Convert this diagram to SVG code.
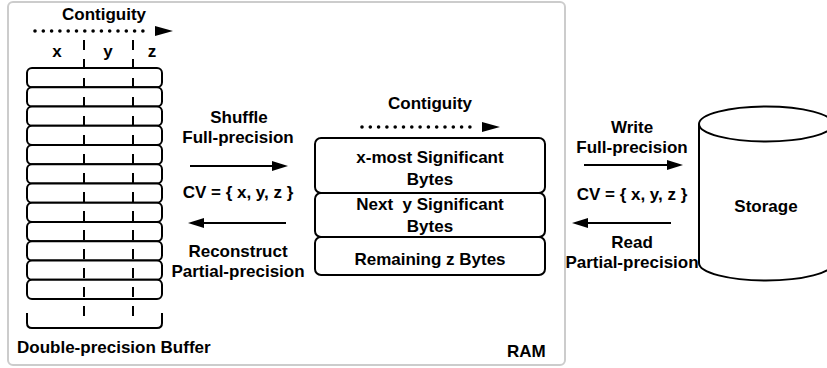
<svg xmlns="http://www.w3.org/2000/svg" width="827" height="368" viewBox="0 0 827 368">
  <style>
    text { font-family: "Liberation Sans", Arial, sans-serif; font-weight: bold; font-size: 17px; fill: #000; }
    .c { text-anchor: middle; }
    .ln { stroke: #000; stroke-width: 2; fill: none; }
    .box { stroke: #000; stroke-width: 2; fill: #fff; }
    .dots { stroke: #000; stroke-width: 3.6; stroke-linecap: round; stroke-dasharray: 0 8.3; fill: none; }
    .dash { stroke: #000; stroke-width: 2; stroke-dasharray: 10 9; fill: none; }
  </style>
  <defs>
    <marker id="head" markerUnits="userSpaceOnUse" markerWidth="17" markerHeight="11" refX="4" refY="5" orient="auto">
      <path d="M0,0 L16,5 L0,10 Z" fill="#000"/>
    </marker>
  </defs>

  <rect width="827" height="368" fill="#fff"/>

  <!-- RAM container -->
  <g id="ram">
    <rect x="8" y="2" width="557" height="363" rx="5" fill="#fff" stroke="#cccccc" stroke-width="2"/>
    <text x="507" y="356.5">RAM</text>
  </g>

  <!-- double-precision buffer: 12 stacked words split into x / y / z fields -->
  <g id="buffer">
    <text class="c" x="104" y="19.5">Contiguity</text>
    <text class="c" x="57" y="57">x</text>
    <text class="c" x="108" y="57">y</text>
    <text class="c" x="152" y="57">z</text>
    <g class="box">
      <rect x="27" y="68" width="135" height="19.25" rx="5"/>
      <rect x="27" y="87.25" width="135" height="19.25" rx="5"/>
      <rect x="27" y="106.5" width="135" height="19.25" rx="5"/>
      <rect x="27" y="125.75" width="135" height="19.25" rx="5"/>
      <rect x="27" y="145" width="135" height="19.25" rx="5"/>
      <rect x="27" y="164.25" width="135" height="19.25" rx="5"/>
      <rect x="27" y="183.5" width="135" height="19.25" rx="5"/>
      <rect x="27" y="202.75" width="135" height="19.25" rx="5"/>
      <rect x="27" y="222" width="135" height="19.25" rx="5"/>
      <rect x="27" y="241.25" width="135" height="19.25" rx="5"/>
      <rect x="27" y="260.5" width="135" height="19.25" rx="5"/>
      <rect x="27" y="279.75" width="135" height="19.25" rx="5"/>
    </g>
    <path class="ln" d="M27,313 V323 Q27,328 32,328 H157 Q162,328 162,323 V313"/>
    <line class="dash" x1="84" y1="40" x2="84" y2="320"/>
    <line class="dash" x1="133" y1="40" x2="133" y2="320"/>
    <text x="17" y="353">Double-precision Buffer</text>
  </g>

  <!-- shuffled byte layout -->
  <g id="layout">
    <text class="c" x="430" y="108.5">Contiguity</text>
    <rect class="box" x="315" y="138" width="230" height="55" rx="6"/>
    <rect class="box" x="315" y="193" width="230" height="44" rx="6"/>
    <rect class="box" x="315" y="237" width="230" height="38" rx="6"/>
    <text class="c" x="430" y="163">x-most Significant</text>
    <text class="c" x="430" y="185">Bytes</text>
    <text class="c" x="430" y="210" xml:space="preserve">Next  y Significant</text>
    <text class="c" x="430" y="232">Bytes</text>
    <text class="c" x="430" y="265">Remaining z Bytes</text>
  </g>

  <!-- storage cylinder -->
  <g id="storage">
    <path class="box" d="M699,124 V263 A67,17.5 0 0 0 833,263 V124"/>
    <ellipse class="box" cx="766" cy="124" rx="67" ry="17.5"/>
    <text class="c" x="766" y="212">Storage</text>
  </g>

  <!-- connectors and their labels -->
  <g id="connectors">
    <line class="dots" x1="35" y1="31" x2="151" y2="31"/>
    <path d="M155,26 L173,31 L155,36 Z" fill="#000"/>
    <line class="dots" x1="362" y1="127" x2="478" y2="127"/>
    <path d="M482,122 L500,127 L482,132 Z" fill="#000"/>

    <line class="ln" x1="190" y1="166" x2="276" y2="166" marker-end="url(#head)"/>
    <line class="ln" x1="286" y1="223" x2="200" y2="223" marker-end="url(#head)"/>
    <line class="ln" x1="584" y1="165" x2="671" y2="165" marker-end="url(#head)"/>
    <line class="ln" x1="671" y1="223" x2="584" y2="223" marker-end="url(#head)"/>

    <text class="c" x="239" y="123">Shuffle</text>
    <text class="c" x="238" y="143">Full-precision</text>
    <text class="c" x="238" y="198">CV = { x, y, z }</text>
    <text class="c" x="238" y="257">Reconstruct</text>
    <text class="c" x="238" y="277">Partial-precision</text>

    <text class="c" x="632" y="133">Write</text>
    <text class="c" x="632" y="153">Full-precision</text>
    <text class="c" x="632" y="200">CV = { x, y, z }</text>
    <text class="c" x="632" y="248">Read</text>
    <text class="c" x="632" y="268">Partial-precision</text>
  </g>
</svg>
